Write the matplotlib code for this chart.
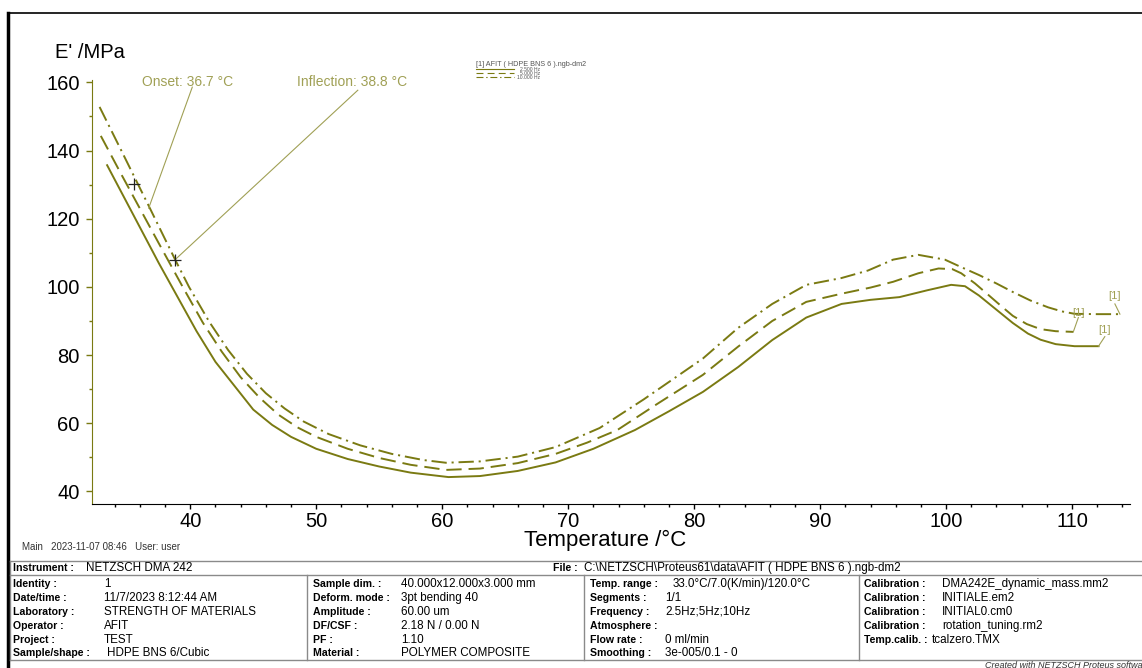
import matplotlib.pyplot as plt
from matplotlib.lines import Line2D
from matplotlib.ticker import MultipleLocator

plt.rcParams['font.family'] = ['Liberation Sans', 'DejaVu Sans']
plt.rcParams['lines.scale_dashes'] = False

W, H = 1142, 668


def fx(x):
    return x / W


def fy(y):
    return 1 - y / H


# E' curves (temperature in degC, modulus in MPa)
temp_2p5 = [33.4, 34.5, 36, 37.5, 39, 40.5, 42, 43.5, 45, 46.5, 48, 50, 52.5, 55, 57.5,
            60.5, 63, 66, 69, 72, 75.3, 78, 80.7, 83.5, 86.2, 88.9, 91.7, 94, 96.3, 98.5,
            100.4, 101.5, 102.6, 104, 105.3, 106.5, 107.5, 108.7, 110.2, 112.1]
emod_2p5 = [135.7, 128, 117.5, 107, 97, 87, 78, 71, 64, 59.5, 56, 52.5, 49.5, 47.3, 45.5,
            44.2, 44.5, 46, 48.5, 52.5, 58, 63.5, 69.2, 76.5, 84.4, 91, 95, 96.2, 97, 99,
            100.6, 100.2, 97.5, 93.3, 89.4, 86.3, 84.5, 83.2, 82.6, 82.6]

temp_5 = [32.9, 34.5, 36, 37.5, 39.4, 41, 42.5, 44, 45.5, 47, 48.5, 50, 52.5, 55, 57.5,
          60.3, 63, 66, 69, 71.5, 73.9, 77, 80.7, 83.5, 86.2, 88.9, 91.7, 94, 95.8, 97.8,
          99.4, 100.5, 101.2, 102.3, 103.4, 104.4, 105.3, 106.4, 107.5, 108.7, 110.1]
emod_5 = [144.3, 133.2, 123, 112.8, 100, 89.5, 81, 73.5, 67.5, 62.5, 58.8, 56, 52.5, 49.8, 47.8,
          46.3, 46.7, 48.3, 51, 54.3, 58, 65.5, 74.2, 82.5, 90, 95.6, 98, 99.8, 101.5, 104,
          105.4, 105.2, 104, 101, 97.5, 94.3, 91.5, 89.1, 87.6, 87, 86.8]

temp_10 = [32.8, 34.5, 36, 36.7, 38, 38.8, 39.9, 41.5, 43, 44.5, 46, 47.5, 49, 51, 53.5, 56,
           58.5, 60.3, 63, 66, 69, 72.5, 76, 80.7, 83.5, 86.2, 88.9, 91.7, 93.8, 95.8, 97.8,
           99.9, 101.2, 102.6, 104, 105.3, 106.7, 108.1, 109.2, 110.2, 112, 113.8]
emod_10 = [152.8, 140.2, 129, 123.8, 114, 108, 100, 89.8, 81.5, 74.5, 68.8, 64.3, 60.5, 56.8,
           53.5, 51, 49.2, 48.4, 48.8, 50.2, 53, 58.6, 67, 79, 88, 95, 100.6, 102.6, 104.8,
           108, 109.4, 108, 105.8, 103.5, 101, 98.5, 96, 94, 92.8, 92.1, 92, 92]

legend_labels = ['2.500 Hz', '5.000 Hz', '10.000 Hz']

onset_label = 'Onset: 36.7 °C'
onset_pt = (36.7, 123.1)
infl_label = 'Inflection: 38.8 °C'
infl_pt = (38.8, 108.0)
cursor_pt = (35.5, 130.2)

# info table
row_a_keys = ['Identity :', 'Date/time :', 'Laboratory :', 'Operator :', 'Project :', 'Sample/shape :']
row_a_vals = ['1', '11/7/2023 8:12:44 AM', 'STRENGTH OF MATERIALS', 'AFIT', 'TEST', 'HDPE BNS 6/Cubic']
row_b_keys = ['Sample dim. :', 'Deform. mode :', 'Amplitude :', 'DF/CSF :', 'PF :', 'Material :']
row_b_vals = ['40.000x12.000x3.000 mm', '3pt bending 40', '60.00 um', '2.18 N / 0.00 N', '1.10',
              'POLYMER COMPOSITE']
row_c_keys = ['Temp. range :', 'Segments :', 'Frequency :', 'Atmosphere :', 'Flow rate :', 'Smoothing :']
row_c_vals = ['33.0°C/7.0(K/min)/120.0°C', '1/1', '2.5Hz;5Hz;10Hz', '', '0 ml/min', '3e-005/0.1 - 0']
row_d_keys = ['Calibration :', 'Calibration :', 'Calibration :', 'Calibration :', 'Temp.calib. :', '']
row_d_vals = ['DMA242E_dynamic_mass.mm2', 'INITIALE.em2', 'INITIAL0.cm0', 'rotation_tuning.rm2',
              'tcalzero.TMX', '']

olive = '#7a7a12'
text_olive = '#a0a055'

fig = plt.figure(figsize=(W / 100, H / 100), dpi=100)
ax = fig.add_axes([fx(92), fy(504), (1130 - 92) / W, (504 - 80) / H])

styles = ['-', (0, (11, 5)), (0, (11, 3.5, 1.5, 3.5))]
for t, e, ls in zip([temp_2p5, temp_5, temp_10], [emod_2p5, emod_5, emod_10], styles):
    ax.plot(t, e, color=olive, lw=1.4, ls=ls)

ax.set_xlim(32.2, 114.6)
ax.set_ylim(36.3, 160.7)
ax.spines['top'].set_visible(False)
ax.spines['right'].set_visible(False)
ax.spines['left'].set_color(olive)
ax.spines['bottom'].set_color('black')
ax.xaxis.set_major_locator(MultipleLocator(10))
ax.xaxis.set_minor_locator(MultipleLocator(2))
ax.yaxis.set_major_locator(MultipleLocator(20))
ax.yaxis.set_minor_locator(MultipleLocator(10))
ax.tick_params(axis='x', which='major', length=3.5, width=1, pad=2, labelsize=14.5, colors='black')
ax.tick_params(axis='x', which='minor', length=2, width=1, colors='black')
ax.tick_params(axis='y', which='major', length=4, width=1, pad=5, labelsize=14.5, color=olive,
               labelcolor='black')
ax.tick_params(axis='y', which='minor', length=2.5, width=1, color=olive)

# onset / inflection annotations
ax.plot([40.16, onset_pt[0]], [158.6, onset_pt[1]], color=text_olive, lw=0.8)
ax.plot([53.3, infl_pt[0]], [157.7, infl_pt[1]], color=text_olive, lw=0.8)
ax.text(36.2, 160, onset_label, color=text_olive, fontsize=10, va='center', ha='left')
ax.text(48.5, 160, infl_label, color=text_olive, fontsize=10, va='center', ha='left')
ax.plot(*cursor_pt, marker='+', ms=9, mew=0.9, color='#222222')
ax.plot(*infl_pt, marker='+', ms=9, mew=0.9, color='#222222')

# curve end tags
ends = [(temp_2p5[-1], emod_2p5[-1], 112.6, 85.4, 87.3),
        (temp_5[-1], emod_5[-1], 110.5, 91.0, 92.3),
        (temp_10[-1], emod_10[-1], 113.4, 95.0, 97.4)]
for x0, y0, x1, y1, ty in ends:
    ax.plot([x0, x1], [y0, y1], color=text_olive, lw=0.8)
    ax.text(x1, ty, '[1]', color=text_olive, fontsize=8, ha='center', va='center')

fig.text(fx(55), fy(52), "E' /MPa", fontsize=14.5, ha='left', va='center')
fig.text(fx(605), fy(540), 'Temperature /°C', fontsize=16, ha='center', va='center')

# small legend at the top
fig.text(fx(476), fy(64), '[1] AFIT ( HDPE BNS 6 ).ngb-dm2', fontsize=5.2, color='#555555',
         ha='left', va='center')
leg_styles = ['-', (0, (5, 3)), (0, (5, 2, 1, 2))]
for i, (lab, ls) in enumerate(zip(legend_labels, leg_styles)):
    yy = 69.3 + 4 * i
    fig.add_artist(Line2D([fx(476), fx(514)], [fy(yy), fy(yy)], color=olive, lw=0.8, ls=ls))
    fig.text(fx(540), fy(yy), lab, fontsize=3.6, color='#555555', ha='right', va='center')

# outer frame
fig.add_artist(Line2D([fx(8), fx(8)], [fy(13), fy(668)], color='black', lw=2.5))
fig.add_artist(Line2D([fx(8), fx(1142)], [fy(13), fy(13)], color='black', lw=1.2))

fig.text(fx(22), fy(547), 'Main   2023-11-07 08:46   User: user', fontsize=7, color='#333333',
         ha='left', va='center')

# info table
grey = '#8a8a8a'
for yy in [561, 575, 660]:
    fig.add_artist(Line2D([fx(10), fx(1142)], [fy(yy), fy(yy)], color=grey, lw=1))
fig.add_artist(Line2D([fx(10), fx(10)], [fy(561), fy(660)], color=grey, lw=1))
for xx in [307, 584, 859]:
    fig.add_artist(Line2D([fx(xx), fx(xx)], [fy(575), fy(660)], color=grey, lw=1))

ksize = 7.6
vsize = 8.4
fig.text(fx(13), fy(568), 'Instrument :', fontsize=ksize, weight='bold', va='center')
fig.text(fx(86), fy(568), 'NETZSCH DMA 242', fontsize=vsize, va='center')
fig.text(fx(553), fy(568), 'File :', fontsize=ksize, weight='bold', va='center')
fig.text(fx(584), fy(568), 'C:\\NETZSCH\\Proteus61\\data\\AFIT ( HDPE BNS 6 ).ngb-dm2',
         fontsize=vsize, va='center')

cols = [(13, 104, row_a_keys, row_a_vals), (313, 401, row_b_keys, row_b_vals),
        (590, 665, row_c_keys, row_c_vals), (864, 942, row_d_keys, row_d_vals)]
for kx, vx, keys, vals in cols:
    for i, (k, v) in enumerate(zip(keys, vals)):
        yy = 584 + 13.9 * i
        fig.text(fx(kx), fy(yy), k, fontsize=ksize, weight='bold', va='center')
        x_val = vx
        if k == 'Temp. range :':
            x_val = 673
        elif k == 'Sample/shape :':
            x_val = 107
        elif k == 'Temp.calib. :':
            x_val = 932
        fig.text(fx(x_val), fy(yy), v, fontsize=vsize, va='center')

fig.text(fx(985), fy(665), 'Created with NETZSCH Proteus software', fontsize=6.5, style='italic',
         color='#333333', ha='left', va='center')

fig.savefig('out.png', dpi=100)
